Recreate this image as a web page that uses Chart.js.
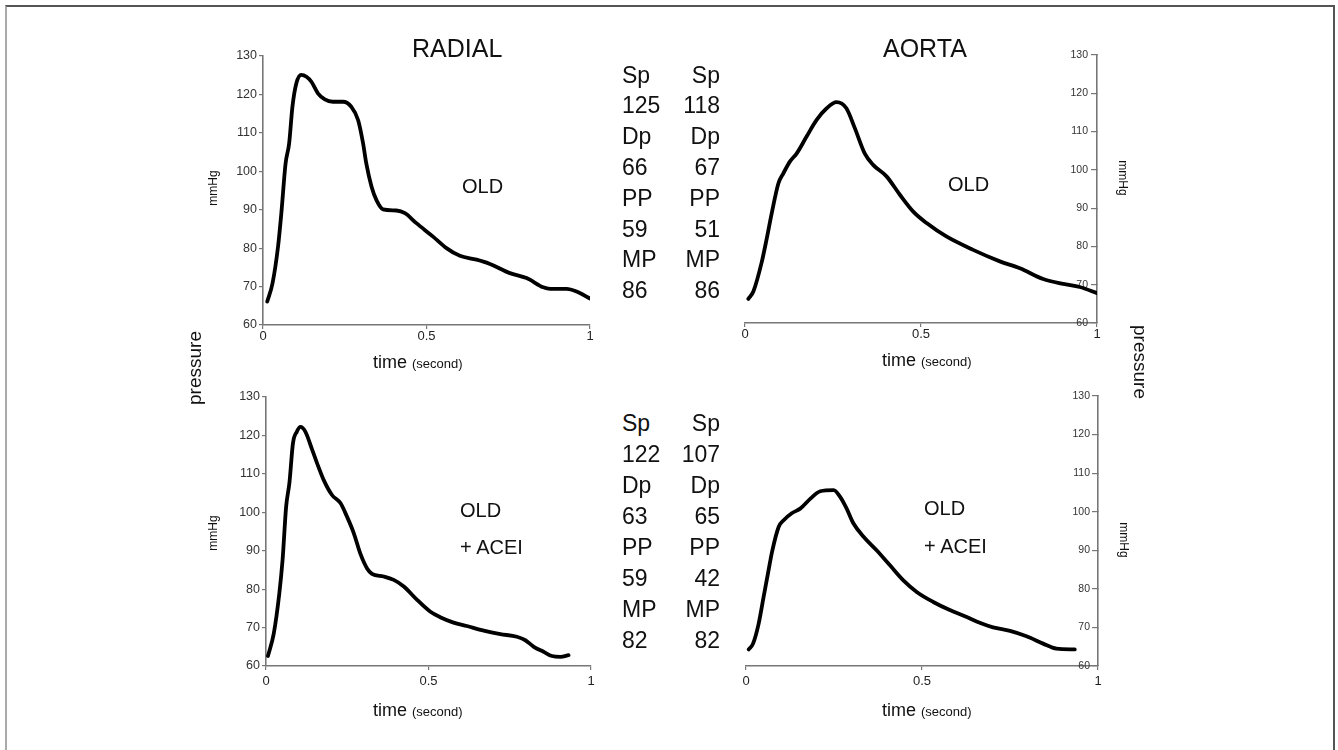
<!DOCTYPE html>
<html><head><meta charset="utf-8">
<script src="https://cdn.jsdelivr.net/npm/chart.js@4"></script>
<style>
body{margin:0;background:#fff;width:1338px;height:750px;overflow:hidden;position:relative;font-family:"Liberation Sans",Arial,sans-serif;color:#111}
.frame{position:absolute;left:5px;top:5px;width:1326px;height:760px;border-top:2px solid #555;border-left:2px solid #aaa;border-right:2px solid #555}
canvas{position:absolute}
.t{position:absolute;white-space:nowrap;line-height:1}
.r{position:absolute;width:120px;height:24px;line-height:24px;text-align:center;white-space:nowrap}
</style></head><body>
<div class="frame"></div>
<canvas id="c1" width="420" height="320" style="left:200px;top:40px"></canvas>
<canvas id="c2" width="420" height="320" style="left:700px;top:40px"></canvas>
<canvas id="c3" width="420" height="340" style="left:200px;top:380px"></canvas>
<canvas id="c4" width="420" height="340" style="left:700px;top:380px"></canvas>
<div id="txt"></div>
<script>
// ---- data ----
const radialOldTime = [0.013,0.029,0.046,0.056,0.069,0.080,0.090,0.102,0.117,0.133,0.148,0.168,0.189,0.214,0.245,0.270,0.291,0.306,0.316,0.332,0.347,0.367,0.408,0.434,0.469,0.520,0.561,0.602,0.653,0.694,0.755,0.806,0.857,0.878,0.929,0.959,1.0];
const radialOldP    = [66.1,70.8,80.4,89,102,107.3,116.8,122.9,125.1,124.6,123.3,120.3,118.7,118.1,118.1,116.8,113.3,107.3,102,96,92.5,90.1,89.8,89.1,86.5,83,80,78,77,75.9,73.5,72.2,69.8,69.4,69.4,68.7,66.9];
const aortaOldTime  = [0.0095,0.024,0.047,0.061,0.076,0.095,0.109,0.128,0.147,0.175,0.203,0.232,0.260,0.288,0.312,0.340,0.364,0.402,0.440,0.478,0.516,0.572,0.648,0.724,0.781,0.847,0.904,0.951,1.0];
const aortaOldP     = [66.3,68.3,75.7,81.7,88.7,96.5,99.1,102.2,104.3,108.7,113,116.1,117.7,116.1,110.9,104.3,101.3,98.3,93.5,89.1,86.1,82.6,79.1,76.1,74.3,71.5,70.2,69.4,67.8];
const radialAceiTime = [0.006,0.024,0.041,0.051,0.062,0.072,0.083,0.095,0.106,0.121,0.142,0.157,0.177,0.203,0.229,0.249,0.270,0.290,0.311,0.326,0.362,0.393,0.424,0.465,0.506,0.536,0.577,0.618,0.670,0.721,0.772,0.798,0.824,0.854,0.880,0.906,0.931];
const radialAceiP    = [62.6,68.5,78.9,87.6,101.5,107.6,118,121,122.2,121,116.3,112.8,108.5,104.5,102.4,98.9,94.6,89.3,85.4,84,83.3,82.4,80.7,77.2,74.1,72.7,71.3,70.4,69.2,68.3,67.6,66.7,65,63.7,62.6,62.4,62.8];
const aortaAceiTime  = [0.0076,0.020,0.036,0.050,0.064,0.074,0.093,0.107,0.130,0.154,0.183,0.211,0.249,0.267,0.286,0.305,0.334,0.371,0.409,0.447,0.485,0.532,0.579,0.627,0.664,0.702,0.750,0.797,0.844,0.882,0.934];
const aortaAceiP     = [64.3,65.8,71,77.9,84.8,89.6,96.1,97.8,99.6,100.8,103.4,105.3,105.6,103.9,100.8,97,93.5,90,86.1,82.2,79.2,76.6,74.5,72.7,71.2,70,69.1,67.7,65.8,64.5,64.3];

const yTicks = [60,70,80,90,100,110,120,130];
const xTicks = [0,0.5,1];
const xTickLabels = ['0','0.5','1'];

const statLabels = ['Sp','Dp','PP','MP'];
const radialOldStats  = [125,66,59,86];
const aortaOldStats   = [118,67,51,86];
const radialAceiStats = [122,63,59,82];
const aortaAceiStats  = [107,65,42,82];

const F = '"Liberation Sans", Arial, sans-serif';

function panel(id, times, values, side, g){
  return new Chart(document.getElementById(id), {
    type:'line',
    data:{datasets:[{data:times.map((t,i)=>({x:t,y:values[i]})),borderColor:'#000',borderWidth:3.8,pointRadius:0,cubicInterpolationMode:'monotone',fill:false,borderCapStyle:'round',borderJoinStyle:'round'}]},
    options:{
      responsive:false,animation:false,
      plugins:{legend:{display:false},tooltip:{enabled:false}},
      layout:{padding:g.pad},
      scales:{
        x:{type:'linear',min:0,max:1,
          afterBuildTicks:s=>{s.ticks=xTicks.map(v=>({value:v}));},
          ticks:{callback:v=>xTickLabels[xTicks.indexOf(v)],font:{size:13,family:F},color:'#222',padding:g.xpad,maxRotation:0,autoSkip:false},
          grid:{drawOnChartArea:false,drawTicks:true,tickLength:4,color:'#777',lineWidth:1.2},
          border:{display:true,color:'#777',width:1.6},
          afterFit:s=>{s.height=g.xh;}},
        y:{type:'linear',position:side,min:60,max:130,
          afterBuildTicks:s=>{s.ticks=yTicks.map(v=>({value:v}));},
          ticks:{font:{size:g.yfs,family:F},color:'#333',padding:g.ypad,mirror:g.mirror,autoSkip:false},
          grid:{drawOnChartArea:false,drawTicks:true,tickLength:g.tl,color:'#777',lineWidth:1.2},
          border:{display:true,color:'#777',width:1.6},
          afterFit:s=>{s.width=g.yw;}}
      }
    }
  });
}

panel('c1', radialOldTime, radialOldP, 'left', {pad:{top:16,right:30,left:0,bottom:0}, yw:63, xh:35, xpad:0, yfs:12.5, ypad:2, mirror:false, tl:4});
panel('c2', aortaOldTime, aortaOldP, 'right', {pad:{top:15,right:0,left:45,bottom:0}, yw:23, xh:37, xpad:0, yfs:10.5, ypad:-9, mirror:true, tl:-6});
panel('c3', radialAceiTime, radialAceiP, 'left', {pad:{top:17,right:29,left:0,bottom:0}, yw:66, xh:54, xpad:4, yfs:12.5, ypad:2, mirror:false, tl:4});
panel('c4', aortaAceiTime, aortaAceiP, 'right', {pad:{top:16,right:0,left:46,bottom:0}, yw:22, xh:54, xpad:4, yfs:10.5, ypad:-8, mirror:true, tl:-6});

// ---- text ----
const txt = document.getElementById('txt');
function add(html, style){ const d=document.createElement('div'); d.className='t'; d.innerHTML=html; d.style.cssText=style; txt.appendChild(d); return d; }
function rot(text, cx, cy, size, deg){ const d=document.createElement('div'); d.className='r'; d.textContent=text; d.style.cssText=`left:${cx-60}px;top:${cy-12}px;font-size:${size}px;transform:rotate(${deg}deg)`; txt.appendChild(d); }

add('RADIAL','left:412px;top:36px;font-size:25px');
add('AORTA','left:883px;top:36px;font-size:25px');

add('OLD','left:462px;top:176px;font-size:20px');
add('OLD','left:948px;top:174px;font-size:20px');
add('OLD','left:460px;top:500px;font-size:20px');
add('+ ACEI','left:460px;top:537px;font-size:20px');
add('OLD','left:924px;top:498px;font-size:20px');
add('+ ACEI','left:924px;top:536px;font-size:20px');

const timeHtml = 'time <span style="font-size:13px">(second)</span>';
add(timeHtml,'left:373px;top:353px;font-size:18px');
add(timeHtml,'left:882px;top:351px;font-size:18px');
add(timeHtml,'left:373px;top:701px;font-size:18px');
add(timeHtml,'left:882px;top:701px;font-size:18px');

rot('mmHg',213,188,12,-90);
rot('mmHg',1123,178,12,90);
rot('mmHg',213,533,12,-90);
rot('mmHg',1124,540,12,90);
rot('pressure',195,368,19,-90);
rot('pressure',1140,362,19,90);

function statBlock(top, step, leftVals, rightVals){
  statLabels.forEach((lab,i)=>{
    const y1 = top + (2*i)*step, y2 = top + (2*i+1)*step;
    add(lab, `left:622px;top:${y1-11.5}px;font-size:23px`);
    add(String(leftVals[i]), `left:622px;top:${y2-11.5}px;font-size:23px`);
    add(lab, `left:620px;width:100px;text-align:right;top:${y1-11.5}px;font-size:23px`);
    add(String(rightVals[i]), `left:620px;width:100px;text-align:right;top:${y2-11.5}px;font-size:23px`);
  });
}
statBlock(75, 30.8, radialOldStats, aortaOldStats);
statBlock(423, 31, radialAceiStats, aortaAceiStats);
</script>
</body></html>
